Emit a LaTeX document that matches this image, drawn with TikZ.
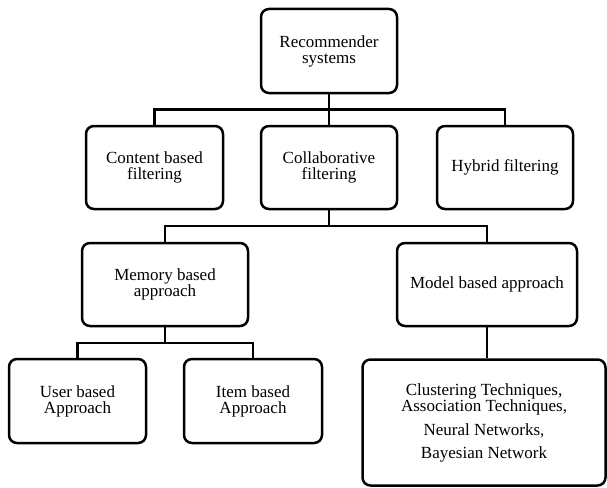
\documentclass[tikz,border=0pt]{standalone}
\usepackage{fontspec}
\setmainfont{Liberation Serif}
\newfontfamily\boxfont{Liberation Serif}
\begin{document}
\begin{tikzpicture}[x=1pt,y=-1pt,
  box/.style={draw=black, line width=2.5pt, rounded corners=8pt, align=center,
    inner sep=0pt, font=\boxfont\fontsize{17}{16}\selectfont, minimum height=83pt},
  conn/.style={draw=black, line width=2.3pt}]
\useasboundingbox (0,0) rectangle (607,487);
\node[box, minimum width=136pt, minimum height=84pt] (rec) at (329,51) {Recommender\\systems};
\node[box, minimum width=137pt] (cont) at (154.5,167.5) {Content based\\filtering};
\node[box, minimum width=136pt] (coll) at (329,167.5) {Collaborative\\filtering};
\node[box, minimum width=136pt] (hyb) at (505,167.5) {Hybrid filtering};
\node[box, minimum width=166pt] (mem) at (165,284.5) {Memory based\\approach};
\node[box, minimum width=180pt] (mod) at (487,284.5) {Model based approach};
\node[box, minimum width=137pt, minimum height=84pt] (user) at (77.5,401) {User based\\Approach};
\node[box, minimum width=138pt, minimum height=84pt] (item) at (253,401) {Item based\\Approach};
\node[box, minimum width=243pt, minimum height=126pt] (tech) at (484,422.5)
  {Clustering Techniques,\\Association Techniques,\\[8pt]Neural Networks,\\[7pt]Bayesian Network};
\coordinate (j1) at (329,109.5);
\coordinate (j2) at (329,226);
\coordinate (j3) at (165,343);
\draw[conn] (rec.south) -- (coll.north);
\draw[conn] (cont.north) |- (j1) -| (hyb.north);
\draw[conn] (coll.south) -- (j2);
\draw[conn] (mem.north) |- (j2) -| (mod.north);
\draw[conn] (mem.south) -- (j3);
\draw[conn] (user.north) |- (j3) -| (item.north);
\draw[conn] (mod.south) -- (mod.south |- tech.north);
\end{tikzpicture}
\end{document}
